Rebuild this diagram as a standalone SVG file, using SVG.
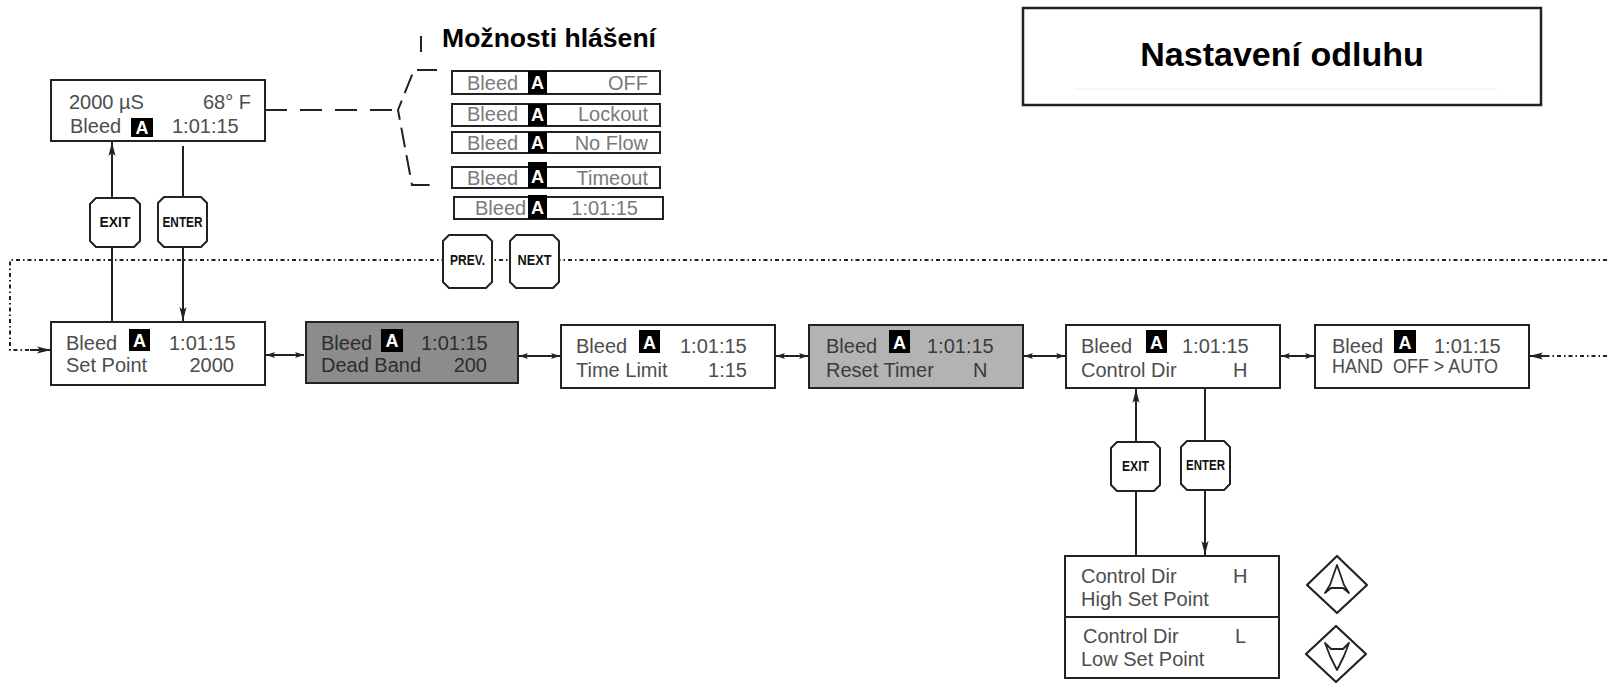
<svg xmlns="http://www.w3.org/2000/svg" width="1607" height="683" viewBox="0 0 1607 683">
<style>
.bx{fill:#fff;stroke:#222;stroke-width:2}
.t{font-family:"Liberation Sans",Arial,sans-serif;font-size:20px;fill:#4d4d4d}
.e{text-anchor:end}
.ac{fill:#000}
.al{font-family:"Liberation Sans",Arial,sans-serif;font-weight:bold;font-size:18px;fill:#fff;text-anchor:middle}
.ot{font-family:"Liberation Sans",Arial,sans-serif;font-size:20px;fill:#7a7a7a}
.btn{fill:#fff;stroke:#222;stroke-width:2;stroke-linejoin:round}
.bt{font-family:"Liberation Sans",Arial,sans-serif;font-weight:bold;font-size:14px;fill:#111;text-anchor:middle}
.ln{stroke:#222;stroke-width:2;fill:none}
.dt{stroke:#222;stroke-width:2;stroke-dasharray:4 3 1.5 3;fill:none}
.ds{stroke:#222;stroke-width:2;stroke-dasharray:22 13;fill:none}
.db{stroke:#222;stroke-width:2;stroke-dasharray:20 8;fill:none}
.h{font-family:"Liberation Sans",Arial,sans-serif;font-weight:bold;fill:#000}
.dm{fill:#fff;stroke:#222;stroke-width:2.2;stroke-linejoin:round}
.gl{fill:none;stroke:#222;stroke-width:1.8;stroke-linejoin:round}
</style>
<defs>
<marker id="ah" viewBox="0 0 14 8" refX="14" refY="4" markerWidth="14" markerHeight="8" markerUnits="userSpaceOnUse" orient="auto"><path d="M0,0.5 L14,4 L0,7.5 L3,4Z" fill="#222"/></marker>
<marker id="sa" viewBox="0 0 9 6" refX="9" refY="3" markerWidth="9" markerHeight="6" markerUnits="userSpaceOnUse" orient="auto-start-reverse"><path d="M0,0 L9,3 L0,6 L2,3Z" fill="#222"/></marker>
</defs>
<rect width="1607" height="683" fill="#fff"/>

<g id="connectors">
<path class="dt" d="M1607,260 H10 V350 H36"/>
<path class="ln" d="M30,350 H51" marker-end="url(#ah)"/>
<path class="dt" d="M1607,356 H1545"/>
<path class="ln" d="M1548,356 H1529" marker-end="url(#ah)"/>
<path class="ds" d="M265,110 H398"/>
<path class="db" d="M437,70 H414 L398,110 L412,185 H437"/>
<path class="ln" d="M421,36 V52"/>
<path class="ln" d="M112,322 V142" marker-end="url(#ah)"/>
<path class="ln" d="M183,146 V321" marker-end="url(#ah)"/>
<path class="ln" d="M1136,556 V389" marker-end="url(#ah)"/>
<path class="ln" d="M1205,388 V555" marker-end="url(#ah)"/>
<path class="ln" d="M266,355 H304" marker-start="url(#sa)" marker-end="url(#sa)"/>
<path class="ln" d="M519,356 H560" marker-start="url(#sa)" marker-end="url(#sa)"/>
<path class="ln" d="M776,356 H808" marker-start="url(#sa)" marker-end="url(#sa)"/>
<path class="ln" d="M1024,356 H1065" marker-start="url(#sa)" marker-end="url(#sa)"/>
<path class="ln" d="M1281,356 H1314" marker-start="url(#sa)" marker-end="url(#sa)"/>
</g>

<g id="title">
<rect x="1023" y="8" width="518" height="97" fill="#fff" stroke="#222" stroke-width="2.5"/>
<line x1="1074" y1="89" x2="1497" y2="89" stroke="#ececec" stroke-width="1"/>
<text class="h" x="1282" y="66" font-size="34" text-anchor="middle">Nastavení odluhu</text>
</g>

<g id="options">
<text class="h" x="442" y="47" font-size="25" textLength="214" lengthAdjust="spacingAndGlyphs">Možnosti hlášení</text>
<rect class="bx" x="452" y="71" width="208" height="23"/>
<rect class="ac" x="528" y="71" width="19" height="23"/>
<text class="al" x="537.5" y="89">A</text>
<text class="ot" x="467" y="90">Bleed</text>
<text class="ot e" x="648" y="90">OFF</text>
<rect class="bx" x="452" y="104" width="208" height="22"/>
<rect class="ac" x="528" y="104" width="19" height="22"/>
<text class="al" x="537.5" y="121">A</text>
<text class="ot" x="467" y="121">Bleed</text>
<text class="ot e" x="648" y="121">Lockout</text>
<rect class="bx" x="452" y="132" width="208" height="21"/>
<rect class="ac" x="528" y="132" width="19" height="21"/>
<text class="al" x="537.5" y="149">A</text>
<text class="ot" x="467" y="150">Bleed</text>
<text class="ot e" x="648" y="150">No Flow</text>
<rect class="bx" x="452" y="167" width="208" height="21"/>
<rect class="ac" x="528" y="162" width="19" height="26"/>
<text class="al" x="537.5" y="183">A</text>
<text class="ot" x="467" y="185">Bleed</text>
<text class="ot e" x="648" y="185">Timeout</text>
<rect class="bx" x="454" y="197" width="209" height="22"/>
<rect class="ac" x="528" y="195" width="19" height="24"/>
<text class="al" x="537.5" y="214">A</text>
<text class="ot" x="475" y="215">Bleed</text>
<text class="ot e" x="638" y="215">1:01:15</text>
</g>

<g id="status">
<rect class="bx" x="51" y="80" width="214" height="61"/>
<text class="t" x="69" y="109">2000 µS</text>
<text class="t e" x="251" y="109">68° F</text>
<text class="t" x="70" y="133">Bleed</text>
<rect class="ac" x="131" y="118" width="22" height="19"/>
<text class="al" x="142" y="134">A</text>
<text class="t" x="172" y="133">1:01:15</text>
</g>

<g id="btn-exit1"><path class="btn" d="M96,198 H134 L140,204 V241 L134,247 H96 L90,241 V204 Z"/><text class="bt" x="115" y="227" textLength="31" lengthAdjust="spacingAndGlyphs">EXIT</text></g>
<g id="btn-enter1"><path class="btn" d="M164,197 H201 L207,203 V241 L201,247 H164 L158,241 V203 Z"/><text class="bt" x="182.5" y="227" textLength="40" lengthAdjust="spacingAndGlyphs">ENTER</text></g>
<g id="btn-prev"><path class="btn" d="M449,235 H486 L492,241 V282 L486,288 H449 L443,282 V241 Z"/><text class="bt" x="467.5" y="265" textLength="35" lengthAdjust="spacingAndGlyphs">PREV.</text></g>
<g id="btn-next"><path class="btn" d="M516,235 H553 L559,241 V282 L553,288 H516 L510,282 V241 Z"/><text class="bt" x="534.5" y="265" textLength="34" lengthAdjust="spacingAndGlyphs">NEXT</text></g>
<g id="btn-exit2"><path class="btn" d="M1117,442 H1154 L1160,448 V485 L1154,491 H1117 L1111,485 V448 Z"/><text class="bt" x="1135.5" y="471" textLength="27" lengthAdjust="spacingAndGlyphs">EXIT</text></g>
<g id="btn-enter2"><path class="btn" d="M1187,441 H1224 L1230,447 V484 L1224,490 H1187 L1181,484 V447 Z"/><text class="bt" x="1205.5" y="470" textLength="39" lengthAdjust="spacingAndGlyphs">ENTER</text></g>

<g id="set-point">
<rect class="bx" x="51" y="322" width="214" height="63"/>
<text class="t" x="66" y="350">Bleed</text>
<rect class="ac" x="129" y="329" width="21" height="22"/>
<text class="al" x="139.5" y="347">A</text>
<text class="t" x="169" y="350">1:01:15</text>
<text class="t" x="66" y="372">Set Point</text>
<text class="t e" x="234" y="372">2000</text>
</g>

<g id="dead-band">
<rect class="bx" x="306" y="322" width="212" height="61" style="fill:#8c8c8c"/>
<text class="t" x="321" y="350" style="fill:#2e2e2e">Bleed</text>
<rect class="ac" x="381" y="329" width="22" height="23"/>
<text class="al" x="392" y="347">A</text>
<text class="t" x="421" y="350" style="fill:#2e2e2e">1:01:15</text>
<text class="t" x="321" y="372" style="fill:#2e2e2e">Dead Band</text>
<text class="t e" x="487" y="372" style="fill:#2e2e2e">200</text>
</g>

<g id="time-limit">
<rect class="bx" x="561" y="325" width="214" height="63"/>
<text class="t" x="576" y="353">Bleed</text>
<rect class="ac" x="639" y="330" width="21" height="23"/>
<text class="al" x="649.5" y="349">A</text>
<text class="t" x="680" y="353">1:01:15</text>
<text class="t" x="576" y="377">Time Limit</text>
<text class="t e" x="747" y="377">1:15</text>
</g>

<g id="reset-timer">
<rect class="bx" x="809" y="325" width="214" height="63" style="fill:#b3b3b3"/>
<text class="t" x="826" y="353" style="fill:#3a3a3a">Bleed</text>
<rect class="ac" x="889" y="330" width="21" height="23"/>
<text class="al" x="899.5" y="349">A</text>
<text class="t" x="927" y="353" style="fill:#3a3a3a">1:01:15</text>
<text class="t" x="826" y="377" style="fill:#3a3a3a">Reset Timer</text>
<text class="t" x="973" y="377" style="fill:#3a3a3a">N</text>
</g>

<g id="control-dir">
<rect class="bx" x="1066" y="325" width="214" height="63"/>
<text class="t" x="1081" y="353">Bleed</text>
<rect class="ac" x="1146" y="330" width="21" height="23"/>
<text class="al" x="1156.5" y="349">A</text>
<text class="t" x="1182" y="353">1:01:15</text>
<text class="t" x="1081" y="377">Control Dir</text>
<text class="t" x="1233" y="377">H</text>
</g>

<g id="hand-off-auto">
<rect class="bx" x="1315" y="325" width="214" height="63"/>
<text class="t" x="1332" y="353">Bleed</text>
<rect class="ac" x="1394" y="330" width="22" height="23"/>
<text class="al" x="1405" y="349">A</text>
<text class="t" x="1434" y="353">1:01:15</text>
<text class="t" x="1332" y="373" font-size="17" style="white-space:pre" textLength="166" lengthAdjust="spacingAndGlyphs">HAND  OFF &gt; AUTO</text>
</g>

<g id="control-dir-options">
<rect class="bx" x="1065" y="556" width="214" height="122"/>
<line x1="1065" y1="617" x2="1279" y2="617" stroke="#222" stroke-width="2"/>
<text class="t" x="1081" y="583">Control Dir</text>
<text class="t" x="1233" y="583">H</text>
<text class="t" x="1081" y="606">High Set Point</text>
<text class="t" x="1083" y="643">Control Dir</text>
<text class="t" x="1235" y="643">L</text>
<text class="t" x="1081" y="666">Low Set Point</text>
</g>

<g id="key-up">
<path class="dm" d="M1307,585 L1337,556 L1367,585 L1337,613 Z"/>
<path class="gl" d="M1337,565 L1330,585 L1325,593 L1331,588 L1343,588 L1349,593 L1344,585 Z"/>
</g>
<g id="key-down">
<path class="dm" d="M1306,654 L1336,626 L1366,654 L1336,682 Z"/>
<path class="gl" d="M1325,643 L1331,649 L1343,649 L1349,643 L1344,656 L1337,670 L1330,656 Z"/>
</g>
</svg>
